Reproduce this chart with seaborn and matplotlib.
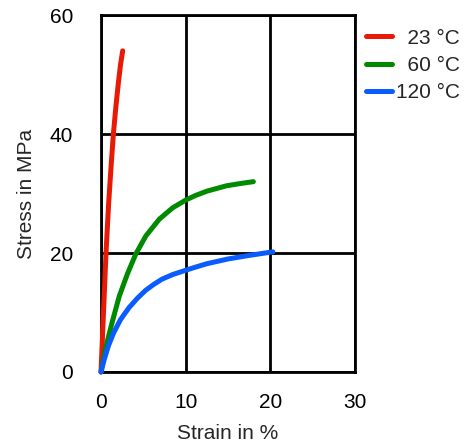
import pandas as pd
import numpy as np
import seaborn as sns
import matplotlib.pyplot as plt

# stress-strain curves
strain_23 = [0, 0.3, 0.59, 0.9, 1.2, 1.46, 1.75, 2.05, 2.3, 2.56]
stress_23 = [0, 10.2, 20, 28.3, 34.8, 40, 44.5, 48.6, 51.6, 54]

strain_60 = [0, 0.59, 1.38, 2.17, 3.15, 4.13, 5.31, 6.89, 8.46, 10.0,
             11.2, 12.5, 14.8, 16.5, 18.0]
stress_60 = [0, 4.3, 8.7, 12.8, 16.6, 19.9, 22.9, 25.7, 27.6, 28.9,
             29.7, 30.4, 31.3, 31.7, 32.0]

strain_120 = [0, 0.4, 0.9, 1.5, 2.3, 3.3, 4.3, 5.25, 6.2, 7.2, 8.5,
              10.0, 11.1, 12.5, 15.0, 17.5, 20.3]
stress_120 = [0, 2.2, 4.5, 6.6, 8.8, 10.8, 12.4, 13.7, 14.7, 15.6, 16.4,
              17.1, 17.6, 18.2, 19.0, 19.6, 20.2]

labels = ["  23 °C", "  60 °C", "120 °C"]
colors = ["#e81a06", "#008a00", "#0a5cff"]

df = pd.concat([
    pd.DataFrame({"Strain": strain_23, "Stress": stress_23, "Temp": labels[0]}),
    pd.DataFrame({"Strain": strain_60, "Stress": stress_60, "Temp": labels[1]}),
    pd.DataFrame({"Strain": strain_120, "Stress": stress_120, "Temp": labels[2]}),
])

sns.set_style("white")
plt.rcParams['font.family'] = ['Liberation Sans', 'DejaVu Sans']

fig = plt.figure(figsize=(4.72, 4.46), dpi=100)
ax = fig.add_axes([0.214, 0.166, 0.538, 0.800])

sns.lineplot(data=df, x="Strain", y="Stress", hue="Temp", palette=colors,
             linewidth=3.6, ax=ax, legend=True, sort=False)
for ln in ax.get_lines():
    ln.set_solid_joinstyle("round")
    ln.set_clip_on(False)
    ln.set_zorder(5)

ax.set_xlim(0, 30)
ax.set_ylim(0, 60)
ax.set_xticks([0, 10, 20, 30])
ax.set_yticks([0, 20, 40, 60])
ax.grid(True, color="black", linewidth=2)
ax.set_axisbelow(True)
for s in ax.spines.values():
    s.set_color("black")
    s.set_linewidth(2)
    s.set_visible(True)
ax.tick_params(axis="both", direction="out", colors="black", width=2,
               labelsize=15)
ax.tick_params(axis="y", length=6, pad=14)
ax.tick_params(axis="x", length=4.5, pad=11)
ax.set_xlabel("Strain in %", fontsize=15, labelpad=8)
ax.set_ylabel("Stress in MPa", fontsize=15, labelpad=10)

leg = ax.legend(loc="upper left", bbox_to_anchor=(0.776, 0.936),
                bbox_transform=fig.transFigure, frameon=False, fontsize=15,
                handlelength=1.25, handletextpad=0.2, labelspacing=0.4,
                borderaxespad=0, borderpad=0)
for ln in leg.get_lines():
    ln.set_linewidth(3.6)

fig.savefig("out.png", dpi=100)
